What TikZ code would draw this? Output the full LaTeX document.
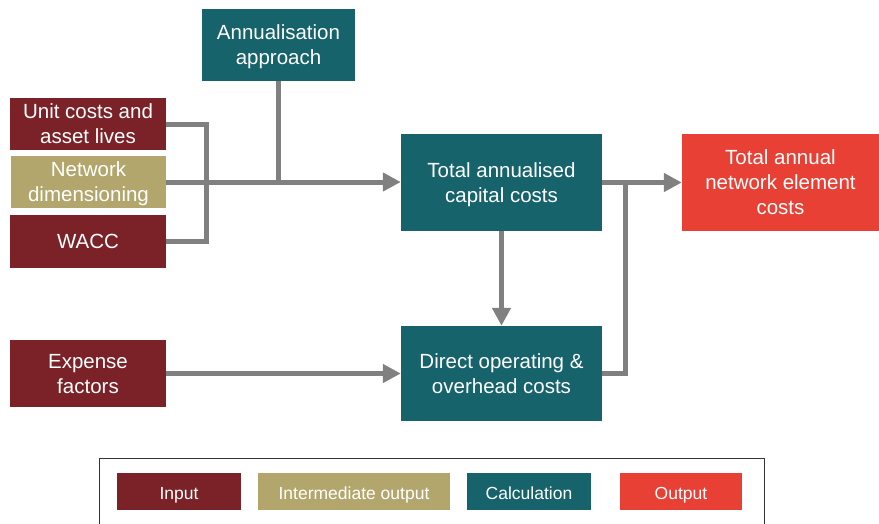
\documentclass[tikz,border=0pt]{standalone}
\usepackage{fontspec}
\setmainfont{Liberation Sans}
\usetikzlibrary{arrows.meta}
\definecolor{inputred}{HTML}{7A2228}
\definecolor{intertan}{HTML}{B3A66D}
\definecolor{calcteal}{HTML}{17636C}
\definecolor{outred}{HTML}{E84034}
\definecolor{linkgrey}{HTML}{808080}
% struts that fix the first-line height and last-line depth of box labels
\newcommand\firststrut{\rule{0pt}{19.1pt}}
\newcommand\laststrut{\rule[-4.5pt]{0pt}{4.5pt}}
\begin{document}
\begin{tikzpicture}[x=1pt,y=-1pt,
  box/.style={inner sep=0pt, align=center, text=white,
    font=\fontsize{20.5}{25}\selectfont},
  inbox/.style={box, fill=inputred, minimum width=156pt},
  interbox/.style={box, fill=intertan},
  calcbox/.style={box, fill=calcteal},
  outbox/.style={box, fill=outred},
  keybox/.style={inner sep=0pt, minimum height=37pt, text=white,
    text height=15.5pt, text depth=0.3pt,
    font=\fontsize{17.5}{21}\selectfont},
  conn/.style={draw=linkgrey, line width=5pt, line join=miter},
  arr/.style={-{Triangle[length=18pt,width=18pt]}}
]
\useasboundingbox (0,0) rectangle (879,523);

% process boxes
\node[calcbox, minimum width=153pt, minimum height=72pt] (ann) at (278.5,45) {\firststrut Annualisation\\approach\laststrut};
\node[inbox, minimum height=52pt] (unit) at (88,124) {\firststrut Unit costs and\\asset lives\laststrut};
\node[interbox, minimum width=155pt, minimum height=52pt] (net) at (88.5,182) {\firststrut Network\\dimensioning\laststrut};
\node[inbox, minimum height=53pt] (wacc) at (88,241.5) {\firststrut WACC\laststrut};
\node[inbox, minimum height=67pt] (exp) at (88,373.5) {\firststrut Expense\\factors\laststrut};
\node[calcbox, minimum width=201pt, minimum height=97pt] (tac) at (501.5,182.5) {\firststrut Total annualised\\capital costs\laststrut};
\node[calcbox, minimum width=201pt, minimum height=95pt] (dir) at (501.5,373.5) {\firststrut Direct operating \&\\overhead costs\laststrut};
\node[outbox, minimum width=197pt, minimum height=97pt] (out) at (780.5,182.5) {\firststrut Total annual\\network element\\costs\laststrut};

% connectors
\draw[conn] (unit.east) -- ++(40,0) |- (wacc.east);
\draw[conn] (ann.south) -- (ann.south |- net.east);
\draw[conn,arr] (net.east) -- (net.east -| tac.west);
\draw[conn,arr] (tac.south) -- (dir.north);
\draw[conn,arr] (exp.east) -- (exp.east -| dir.west);
\draw[conn,arr] (tac.east) -- (out.west);
\draw[conn] (dir.east) -| ([xshift=23pt]tac.east);

% key
\draw[line width=1pt, draw=black!80] (99.5,524) -- (99.5,458.5) -- (764.5,458.5) -- (764.5,524);
\node[keybox, fill=inputred, minimum width=124pt] (kin) at (179,491.5) {Input};
\node[keybox, fill=intertan, minimum width=192pt] (kint) at (354,491.5) {Intermediate output};
\node[keybox, fill=calcteal, minimum width=124pt] (kcalc) at (529,491.5) {Calculation};
\node[keybox, fill=outred, minimum width=122pt] (kout) at (681,491.5) {Output};
\end{tikzpicture}
\end{document}
